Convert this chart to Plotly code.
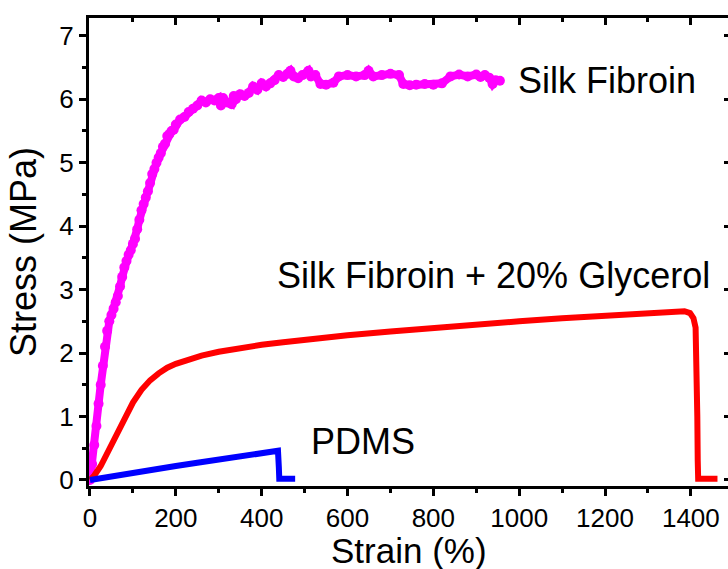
import plotly.graph_objects as go

# ---- data ----
sf_strain = [0, 5, 10, 15, 20, 25, 30, 35, 40, 45, 50, 55, 60, 65, 70, 75, 80, 85, 90, 95,
             100, 105, 110, 115, 120, 125, 130, 135, 140, 145, 150, 155, 160, 165, 170, 175,
             180, 185, 190, 195, 200, 210, 220, 230, 240, 250, 260, 270, 280, 290, 300, 305,
             310, 320, 330, 335, 340, 350, 360, 370, 380, 390, 400, 410, 420, 430, 440, 450,
             460, 467, 475, 485, 495, 509, 515, 525, 537, 550, 567, 580, 600, 620, 640, 649,
             660, 680, 700, 720, 730, 745, 760, 780, 800, 820, 840, 860, 880, 900, 910, 920,
             930, 938, 945, 955]
sf_stress = [0, 0.25, 0.55, 0.85, 1.2, 1.5, 1.8, 2.1, 2.35, 2.5, 2.6, 2.7, 2.8, 2.9, 3.05, 3.2,
             3.35, 3.45, 3.55, 3.62, 3.72, 3.8, 3.95, 4.1, 4.25, 4.35, 4.45, 4.55, 4.68, 4.82,
             4.9, 5.0, 5.08, 5.15, 5.25, 5.3, 5.42, 5.45, 5.5, 5.52, 5.6, 5.68, 5.72, 5.8, 5.85,
             5.9, 5.98, 5.95, 6.0, 5.98, 6.02, 5.9, 6.02, 5.95, 5.92, 6.05, 6.0, 6.08, 6.05, 6.1,
             6.2, 6.15, 6.25, 6.2, 6.25, 6.3, 6.38, 6.35, 6.4, 6.45, 6.36, 6.33, 6.38, 6.45,
             6.36, 6.38, 6.24, 6.23, 6.26, 6.36, 6.38, 6.36, 6.38, 6.45, 6.36, 6.38, 6.4, 6.38,
             6.24, 6.22, 6.23, 6.24, 6.23, 6.25, 6.36, 6.39, 6.36, 6.39, 6.35, 6.38, 6.34,
             6.24, 6.3, 6.29]

gly_strain = [0, 10, 25, 40, 60, 80, 100, 120, 140, 160, 180, 200, 230, 260, 300, 350, 400,
              450, 500, 600, 700, 800, 900, 1000, 1100, 1200, 1300, 1360, 1385, 1398, 1406,
              1411, 1413, 1415, 1416, 1417, 1440, 1462]
gly_stress = [0, 0.07, 0.22, 0.42, 0.7, 0.98, 1.22, 1.42, 1.57, 1.68, 1.77, 1.83, 1.9, 1.96,
              2.02, 2.08, 2.13, 2.17, 2.21, 2.28, 2.34, 2.4, 2.45, 2.5, 2.55, 2.59, 2.63,
              2.66, 2.66, 2.63, 2.55, 2.4, 2.0, 1.0, 0.3, 0.02, 0.02, 0.02]

pdms_strain = [0, 50, 100, 150, 200, 250, 300, 350, 400, 435, 438, 440, 441, 460, 478]
pdms_stress = [0, 0.06, 0.11, 0.17, 0.22, 0.27, 0.32, 0.37, 0.42, 0.46, 0.46, 0.2, 0.02, 0.02, 0.02]

labels = ["Silk Fibroin", "Silk Fibroin + 20% Glycerol", "PDMS"]
label_x = [992, 432, 510]
label_y = [6.29, 3.22, 0.60]

x_title = "Strain (%)"
y_title = "Stress (MPa)"

x_range = [-2.3, 1486.5]
y_range = [-0.095, 7.28]

FONT = "Liberation Sans, Arial, sans-serif"

fig = go.Figure()
fig.add_trace(go.Scatter(x=sf_strain, y=sf_stress, mode="lines+markers",
                         line=dict(color="#ff00ff", width=8),
                         marker=dict(color="#ff00ff", size=10), showlegend=False))
fig.add_trace(go.Scatter(x=gly_strain, y=gly_stress, mode="lines",
                         line=dict(color="#ff0000", width=6), showlegend=False))
fig.add_trace(go.Scatter(x=pdms_strain, y=pdms_stress, mode="lines",
                         line=dict(color="#0000ff", width=6), showlegend=False))
# dummy trace to instantiate the top/right axes
fig.add_trace(go.Scatter(x=[None], y=[None], xaxis="x2", yaxis="y2",
                         showlegend=False, hoverinfo="skip"))

for t, xx, yy in zip(labels, label_x, label_y):
    fig.add_annotation(x=xx, y=yy, text=t, showarrow=False, xanchor="left",
                       yanchor="middle", font=dict(family=FONT, size=36, color="black"))

# x-axis title placed as paper annotation for exact vertical placement
fig.add_annotation(x=0.5, y=-0.137, xref="paper", yref="paper", text=x_title,
                   showarrow=False, xanchor="center", yanchor="middle",
                   font=dict(family=FONT, size=35, color="black"))

fig.update_layout(
    width=728, height=569,
    margin=dict(l=89, r=0, t=18, b=83),
    paper_bgcolor="white", plot_bgcolor="white",
    font=dict(family=FONT, color="black"),
    xaxis=dict(range=x_range, tickvals=[0, 200, 400, 600, 800, 1000, 1200, 1400],
               ticks="outside", ticklen=7, tickwidth=3, tickcolor="black",
               showline=True, linewidth=3, linecolor="black", mirror=False,
               showgrid=False, zeroline=False,
               tickfont=dict(family=FONT, size=26),
               minor=dict(dtick=100, tick0=0, ticks="outside", ticklen=4,
                          tickwidth=3, tickcolor="black", showgrid=False)),
    yaxis=dict(range=y_range, tickvals=[0, 1, 2, 3, 4, 5, 6, 7],
               ticks="outside", ticklen=7, tickwidth=3, tickcolor="black",
               showline=True, linewidth=3, linecolor="black", mirror=False,
               showgrid=False, zeroline=False,
               tickfont=dict(family=FONT, size=26),
               minor=dict(dtick=0.5, tick0=0, ticks="outside", ticklen=4,
                          tickwidth=3, tickcolor="black", showgrid=False),
               title=dict(text=y_title, font=dict(family=FONT, size=36), standoff=12)),
    xaxis2=dict(range=x_range, overlaying="x", side="top", anchor="y",
                tickvals=[0, 200, 400, 600, 800, 1000, 1200, 1400],
                ticks="inside", ticklen=7, tickwidth=3, tickcolor="black",
                showline=True, linewidth=3, linecolor="black",
                showticklabels=False, showgrid=False, zeroline=False,
                minor=dict(dtick=100, tick0=0, ticks="inside", ticklen=4,
                           tickwidth=3, tickcolor="black", showgrid=False)),
    yaxis2=dict(range=y_range, overlaying="y", side="right", anchor="x",
                tickvals=[0, 1, 2, 3, 4, 5, 6, 7],
                ticks="inside", ticklen=4, tickwidth=3, tickcolor="black",
                showline=False, showticklabels=False, showgrid=False, zeroline=False),
)

fig.write_html("out.html")
